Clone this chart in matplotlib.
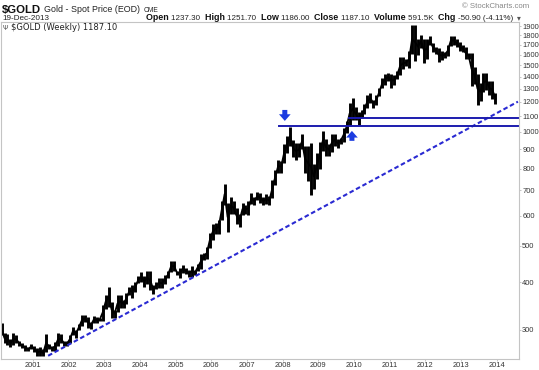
import matplotlib
matplotlib.use("Agg")
import matplotlib.pyplot as plt
import numpy as np

plt.rcParams['font.family'] = ['Liberation Sans', 'DejaVu Sans']

# monthly ranges of $GOLD (weekly bars), Feb 2000 .. Dec 2013
startYear  = 2000
startMonth = 2
monthHigh = [
  312, 294, 292, 283, 294, 290, 280, 276, 274, 270, 275,
  272, 268, 270, 266, 292, 275, 272, 278, 294, 292, 280, 280,
  290, 305, 300, 310, 328, 328, 324, 315, 326, 325, 322, 349,
  370, 389, 356, 339, 370, 370, 360, 376, 390, 393, 400, 417,
  427, 416, 428, 428, 395, 400, 410, 410, 418, 430, 456, 456,
  430, 438, 446, 437, 431, 443, 431, 448, 476, 478, 497, 540,
  570, 573, 585, 655, 730, 648, 672, 656, 630, 605, 648, 640,
  655, 688, 672, 695, 688, 672, 685, 675, 745, 795, 845, 840,
  930, 975, 1033, 950, 935, 935, 988, 920, 915, 935, 820, 880,
  940, 1007, 960, 930, 985, 990, 960, 965, 1025, 1070, 1195, 1227,
  1162, 1130, 1140, 1184, 1250, 1265, 1215, 1250, 1310, 1388, 1425, 1432,
  1424, 1413, 1448, 1575, 1577, 1555, 1633, 1915, 1920, 1760, 1803, 1765,
  1764, 1791, 1720, 1680, 1665, 1640, 1630, 1693, 1790, 1796, 1755, 1725,
  1695, 1680, 1620, 1615, 1488, 1420, 1345, 1433, 1434, 1362, 1362, 1265,
]
monthLow = [
  290, 276, 273, 270, 273, 276, 271, 268, 264, 263, 267,
  262, 255, 256, 255, 262, 266, 264, 264, 272, 276, 272, 271,
  277, 290, 286, 299, 307, 315, 304, 301, 312, 312, 316, 317,
  341, 345, 322, 323, 334, 342, 342, 351, 370, 364, 378, 398,
  400, 390, 396, 382, 372, 384, 387, 387, 397, 410, 426, 428,
  418, 410, 424, 420, 414, 413, 418, 430, 433, 458, 460, 493,
  519, 537, 538, 585, 640, 543, 605, 605, 571, 561, 602, 608,
  602, 646, 640, 660, 650, 640, 645, 642, 670, 725, 780, 780,
  830, 880, 915, 860, 845, 860, 900, 780, 740, 681, 705, 750,
  800, 890, 865, 865, 885, 915, 905, 930, 940, 995, 1040, 1075,
  1073, 1045, 1085, 1112, 1160, 1195, 1157, 1180, 1242, 1305, 1330, 1365,
  1308, 1329, 1381, 1415, 1462, 1495, 1478, 1605, 1535, 1600, 1670, 1523,
  1560, 1700, 1627, 1610, 1527, 1545, 1565, 1585, 1690, 1695, 1672, 1635,
  1626, 1555, 1563, 1321, 1338, 1180, 1208, 1272, 1292, 1251, 1221, 1186,
]

yearTicks  = list(range(2001, 2015))
priceTicks = [300, 400, 500, 600, 700, 800, 900, 1000, 1100, 1200,
              1300, 1400, 1500, 1600, 1700, 1800, 1900]

# annotations drawn on the chart
trendStart = (2001.43, 256)
trendEnd   = (2014.59, 1202)
resistUpper = (2009.86, 1090)
resistLower = (2007.90, 1038)
arrowDown = (2008.06, 1143, 1069)
arrowUp   = (2009.94, 947, 1006)

headerParts = [
  ('Open', True), ('1237.30', False), ('High', True), ('1251.70', False),
  ('Low', True), ('1186.00', False), ('Close', True), ('1187.10', False),
  ('Volume', True), ('591.5K', False), ('Chg', True), ('-50.90 (-4.11%)', False),
]

W, H = 539, 370
fig = plt.figure(figsize=(W / 100, H / 100), dpi=100)
fig.patch.set_facecolor('white')
renderer = fig.canvas.get_renderer()

def px(x, y):
  return x / W, 1 - y / H

def chainText(x, y, parts, gap):
  # parts: (text, kwargs); places them one after another, returns end x
  for txt, kw in parts:
    t = fig.text(*px(x, y), txt, **kw)
    x = x + t.get_window_extent(renderer).width + gap
  return x

axLeft, axRight, axTop, axBottom = 1, 519, 22, 359
ax = fig.add_axes([axLeft / W, (H - axBottom) / H, (axRight - axLeft) / W, (axBottom - axTop) / H])

n = len(monthHigh)
xMonths = np.array([startYear + (startMonth - 1 + i + 0.5) / 12.0 for i in range(n)])
ax.vlines(xMonths, monthLow, monthHigh, color='black', lw=2.1)
ax.plot(xMonths, (np.array(monthLow) + np.array(monthHigh)) / 2.0, color='black', lw=1.3)

# trend line and support lines
ax.plot([trendStart[0], trendEnd[0]], [trendStart[1], trendEnd[1]],
        color='#2a2ad2', lw=1.5, linestyle=(0, (2.2, 1.3)))
ax.plot([resistUpper[0], 2014.62], [resistUpper[1], resistUpper[1]], color='#1c1cae', lw=1.4)
ax.plot([resistLower[0], 2014.62], [resistLower[1], resistLower[1]], color='#1c1cae', lw=1.4)

for xa, yFrom, yTo in [arrowDown, arrowUp]:
  ax.annotate('', xy=(xa, yTo), xytext=(xa, yFrom),
              arrowprops=dict(arrowstyle='simple,head_width=1.05,head_length=0.6,tail_width=0.45',
                              mutation_scale=8, color='#1c3ce0', lw=0, shrinkA=0, shrinkB=0))

ax.set_yscale('log')
ax.set_xlim(2000.11, 2014.62)
ax.set_ylim(251, 1952)
ax.yaxis.tick_right()
ax.set_yticks(priceTicks)
ax.set_yticklabels([str(t) for t in priceTicks])
ax.yaxis.set_minor_locator(matplotlib.ticker.NullLocator())
ax.set_xticks(yearTicks)
ax.set_xticklabels([str(t) for t in yearTicks])
ax.tick_params(axis='both', labelsize=5.4, colors='#bbbbbb', labelcolor='#333333',
               length=1.5, width=0.6, pad=0.8)
for s in ax.spines.values():
  s.set_color('#c4c4c4')
  s.set_linewidth(0.8)

# header texts
xEnd = chainText(2, 13, [('$GOLD', dict(fontsize=8.2, fontweight='bold', color='#111111'))], 3)
xEnd = chainText(xEnd, 12, [('Gold - Spot Price (EOD)', dict(fontsize=6.4, color='#222222'))], 3)
chainText(xEnd, 12, [('CME', dict(fontsize=4.9, color='#222222'))], 0)
fig.text(*px(529, 8), '\u00a9 StockCharts.com', fontsize=5.6, color='#888888', ha='right')
fig.text(*px(2, 20), '19-Dec-2013', fontsize=5.9, color='#222222')

hdr = []
for txt, bold in headerParts:
  kw = dict(fontsize=6.4, fontweight='bold', color='#111111') if bold else dict(fontsize=5.8, color='#222222')
  hdr.append((txt + (' ' if bold else '  '), kw))
xEnd = chainText(146, 20, hdr, 0)
fig.text(*px(max(xEnd, 512), 20), '\u25be', fontsize=5.5, color='#555555', family=['DejaVu Sans'])

fig.text(*px(3, 30), '\u03a8', fontsize=5, color='#555555', family=['DejaVu Sans'])
fig.text(*px(11, 30), '$GOLD (Weekly) 1187.10', fontsize=6.0, color='#222222',
         family=['DejaVu Sans'])

fig.savefig('out.png', dpi=100, facecolor='white')
